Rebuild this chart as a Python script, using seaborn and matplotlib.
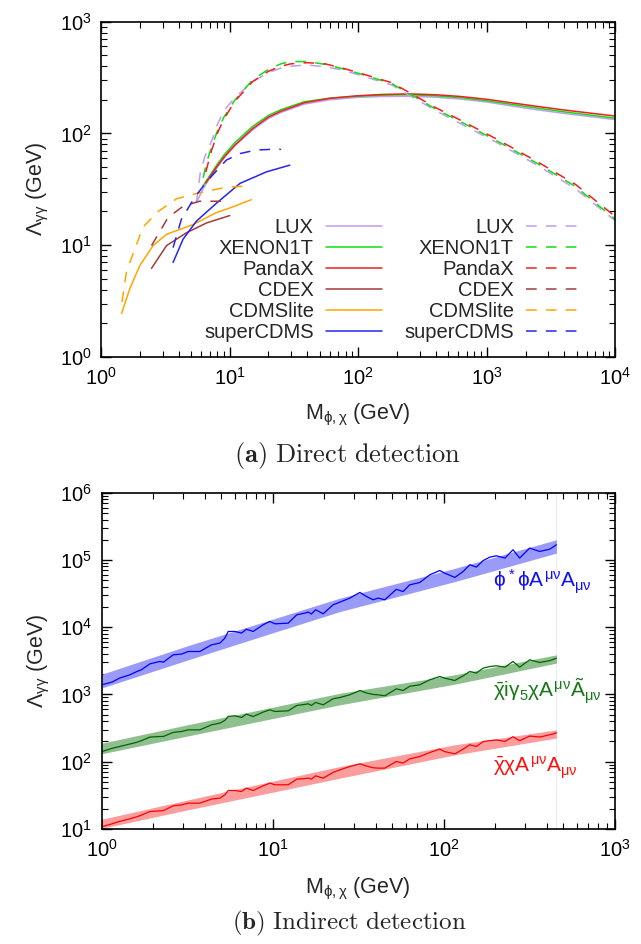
import numpy as np
import pandas as pd
import matplotlib
matplotlib.use("Agg")
import matplotlib.pyplot as plt
import seaborn as sns

sns.set_theme(style="ticks")
plt.rcParams["font.family"] = ["Liberation Sans", "DejaVu Sans"]
plt.rcParams["mathtext.fontset"] = "custom"
plt.rcParams["mathtext.rm"] = "Liberation Sans"
plt.rcParams["mathtext.it"] = "Liberation Sans"
plt.rcParams["mathtext.bf"] = "Liberation Sans:bold"

# ---------------- (a) direct detection: solid curves ----------------
lux_m = [5.5, 6.2, 7, 8, 9.1, 11, 15, 20, 25, 38, 60, 97, 150, 246, 400, 627, 1000, 2180, 4000, 10000]
lux_v = [24, 32, 40, 50, 61, 78, 107, 136, 154, 183, 200, 210, 214, 215, 211, 203, 191, 166, 151, 133]
xenon_m = [6.2, 7, 8, 9.1, 11, 15, 20, 25, 38, 60, 97, 150, 246, 400, 627, 1000, 2180, 4000, 10000]
xenon_v = [34, 42, 53, 65, 83, 115, 145, 163, 192, 207, 215, 220, 222, 217, 209, 196, 172, 156, 137]
panda_m = [6.5, 8, 9.1, 11, 15, 20, 25, 38, 60, 97, 150, 246, 400, 627, 1000, 2180, 4000, 10000]
panda_v = [36, 51, 62, 79, 110, 140, 158, 188, 206, 217, 223, 226, 222, 214, 202, 178, 162, 143]
cdex_m = [2.46, 3.22, 4.6, 6.6, 10]
cdex_v = [6.2, 9.9, 12.9, 15.8, 18.4]
cdmslite_m = [1.44, 1.67, 2.0, 2.53, 3.22, 5.2, 7.9, 10, 14.7]
cdmslite_v = [2.45, 4.1, 6.6, 9.9, 12.5, 15.3, 19.6, 21.5, 25.5]
scdms_m = [3.62, 4.33, 5.5, 7.9, 12, 19.3, 29.3]
scdms_v = [7.0, 11.3, 16.4, 23.8, 35.7, 45.3, 52]

# ---------------- (a) direct detection: dashed curves ----------------
lux_d_m = [5.5, 5.9, 6.4, 7.2, 8, 9, 11, 15, 20, 25, 30, 40, 55, 75, 100, 181, 262, 400, 627, 1170, 2460, 4890, 10000]
lux_d_v = [24, 45, 62, 85, 120, 160, 210, 290, 350, 385, 400, 410, 395, 370, 335, 272, 212, 160, 122, 84, 52, 32, 16.5]
xenon_d_m = [6.2, 6.6, 7.2, 8, 9, 11, 15, 20, 25, 30, 40, 55, 75, 100, 181, 262, 400, 627, 1170, 2460, 4890, 10000]
xenon_d_v = [40, 55, 75, 105, 140, 200, 300, 375, 420, 440, 440, 415, 380, 345, 280, 220, 165, 127, 87, 54, 33.5, 17]
panda_d_m = [6.5, 7.2, 8, 9, 11, 15, 20, 25, 30, 40, 55, 75, 100, 181, 262, 400, 627, 1170, 2460, 4890, 10000]
panda_d_v = [45, 70, 100, 135, 195, 290, 360, 400, 420, 430, 420, 385, 350, 285, 225, 170, 131, 90, 56, 35, 18]
cdex_d_m = [2.46, 3.3, 4.33, 5.8, 10]
cdex_d_v = [9.9, 17.6, 22.3, 24.7, 24.7]
cdmslite_d_m = [1.45, 1.57, 2.11, 2.77, 3.85, 5.8, 9.4, 14.8]
cdmslite_d_v = [3.1, 5.8, 14.5, 20, 26, 29.4, 33, 34]
scdms_d_m = [3.62, 4.2, 5.3, 6.6, 9.4, 12, 16, 21, 25]
scdms_d_v = [9.5, 17, 26.5, 37, 57.7, 66, 71, 72, 72]

experiments = ["LUX", "XENON1T", "PandaX", "CDEX", "CDMSlite", "superCDMS"]
exp_colors = ["#c09cf0", "#11dd11", "#ee2020", "#a03c3c", "#ffa500", "#2525f0"]

# ---------------- (b) indirect detection ----------------
line_m = [1.0, 1.15, 1.27, 1.46, 1.6, 1.7, 1.91, 2.18, 2.29, 2.61, 2.92, 3.2, 3.74, 4.38, 4.9,
          5.24, 5.48, 6.0, 6.56, 7.0, 7.67, 8.77, 9.6, 10.3, 12.3, 13.8, 15.4, 16.1, 16.8, 17.8,
          19.7, 22.5, 24.7, 28.2, 32.3, 35.3, 38.6, 41.3, 45.2, 52.8, 57.8, 63.2, 72.4, 82.8, 94.8,
          101, 116, 130, 142, 155, 170, 186, 203, 228, 254, 278, 318, 364, 417, 456]
scalar_v = [1390, 1530, 1750, 1960, 2190, 2320, 2850, 3090, 3020, 3880, 3980, 4350, 4350, 5470, 5800,
            6880, 8640, 8640, 8170, 9340, 8640, 10860, 12170, 11220, 11480, 15300, 16200, 16800, 15700, 18160,
            15850, 21550, 23600, 27100, 32900, 28650, 25600, 27100, 25600, 36650, 33900, 42700, 46200, 60200, 69800,
            63800, 55000, 67600, 85000, 78400, 98200, 110200, 115500, 106700, 141900, 106700, 150300, 134000, 145000, 168300]
pseudo_v = [141, 158, 168, 183, 194, 205, 232, 236, 237, 272, 281, 297, 297, 353, 374,
            410, 470, 481, 453, 509, 469, 545, 590, 557, 570, 684, 710, 725, 684, 759,
            700, 861, 900, 986, 1143, 1050, 1000, 986, 953, 1211, 1143, 1320, 1390, 1649, 1847,
            1749, 1610, 1894, 2194, 2075, 2460, 2600, 2665, 2546, 3090, 2546, 3273, 2985, 3184, 3450]
fermion_v = [10.8, 11.9, 12.9, 14.1, 15.1, 16.0, 18.1, 18.5, 18.7, 22.0, 22.7, 24.1, 24.1, 27.7, 28.6,
             32.1, 37.2, 37.2, 35.9, 40.3, 37.2, 43.6, 47.9, 45.2, 45.2, 54.9, 56.0, 56.8, 54.9, 61.5,
             56.8, 68.9, 75.5, 84.6, 92.7, 86, 81, 80, 80, 100.5, 95, 110, 119, 136.5, 153.5,
             141, 130.6, 153.5, 178, 168, 199, 205, 210, 200, 235, 205, 240, 232, 251, 268]

band_m = [1.0, 3.16, 10, 24.7, 116, 456]
scalar_lo = [1250, 3240, 8260, 17100, 47700, 126700]
scalar_hi = [2000, 5280, 13200, 27100, 75100, 200000]
pseudo_lo = [131, 240, 438, 700, 1420, 2920]
pseudo_hi = [188, 353, 646, 1040, 1960, 3880]
fermion_lo = [10.2, 19.1, 35.1, 56.8, 126, 224]
fermion_hi = [13.9, 26.8, 51.2, 84.6, 178, 297]

operators = [r"$\phi^*\phi A^{\mu\nu}A_{\mu\nu}$",
             r"$\bar{\chi}i\gamma_5\chi A^{\mu\nu}\tilde{A}_{\mu\nu}$",
             r"$\bar{\chi}\chi A^{\mu\nu}A_{\mu\nu}$"]
op_label_pos = [(194, 38500), (194, 890), (194, 68)]
band_colors = ["#9a9af8", "#8fbf8f", "#fb9d9d"]
line_colors = ["#0000ff", "#006400", "#ff0000"]
text_colors = ["#1010f0", "#157a15", "#ff1010"]

FS = 14.5
xlab = r"M$_{\phi,\chi}$ (GeV)"
ylab = r"$\Lambda_{\gamma\gamma}$ (GeV)"


def style_axes(ax, xpad):
    ax.set_xscale("log")
    ax.set_yscale("log")
    ax.tick_params(which="both", direction="in", top=True, right=True,
                   labelsize=FS, color="black", labelcolor="black")
    ax.tick_params(which="major", length=7, width=1.0, pad=7)
    ax.tick_params(which="minor", length=4, width=0.8)
    for s in ax.spines.values():
        s.set_linewidth(1.2)
        s.set_color("black")
    ax.set_xlabel(xlab, fontsize=FS + 1, labelpad=xpad)
    ax.set_ylabel(ylab, fontsize=FS + 1, labelpad=6)


fig = plt.figure(figsize=(6.41, 9.44), dpi=100)
ax1 = fig.add_axes([0.158, 0.622, 0.802, 0.355])
ax2 = fig.add_axes([0.159, 0.122, 0.800, 0.356])

# ---- panel (a)
solid = [(lux_m, lux_v), (xenon_m, xenon_v), (panda_m, panda_v),
         (cdex_m, cdex_v), (cdmslite_m, cdmslite_v), (scdms_m, scdms_v)]
dashed = [(lux_d_m, lux_d_v), (xenon_d_m, xenon_d_v), (panda_d_m, panda_d_v),
          (cdex_d_m, cdex_d_v), (cdmslite_d_m, cdmslite_d_v), (scdms_d_m, scdms_d_v)]
style_axes(ax1, 10)
for (m, v), c in zip(solid, exp_colors):
    sns.lineplot(x=m, y=v, ax=ax1, color=c, lw=1.1, estimator=None)
for (m, v), c in zip(dashed, exp_colors):
    sns.lineplot(x=m, y=v, ax=ax1, color=c, lw=1.1, estimator=None,
                 linestyle=(0, (7, 6)))
ax1.set_xlim(1, 1e4)
ax1.set_ylim(1, 1e3)
handles = ax1.get_lines()[:12]
ax1.legend(handles, experiments + experiments, ncol=2, markerfirst=False,
           frameon=False, fontsize=FS, loc="lower right",
           bbox_to_anchor=(0.936, 0.045), borderaxespad=0, borderpad=0,
           handlelength=2.8, handletextpad=0.6, columnspacing=1.1,
           labelspacing=0.1)

# ---- panel (b)
style_axes(ax2, 11)
lines_b = [scalar_v, pseudo_v, fermion_v]
bands_b = [(scalar_lo, scalar_hi), (pseudo_lo, pseudo_hi), (fermion_lo, fermion_hi)]
for v, (lo, hi), bc, lc in zip(lines_b, bands_b, band_colors, line_colors):
    ax2.fill_between(band_m, lo, hi, color=bc, lw=0)
    sns.lineplot(x=line_m, y=v, ax=ax2, color=lc, lw=0.9, estimator=None)
ax2.axvline(band_m[-1], color="#ecebfb", lw=0.8, zorder=0.5)
for txt, (px, py), tc in zip(operators, op_label_pos, text_colors):
    ax2.text(px, py, txt, color=tc, fontsize=FS + 0.5, ha="left", va="baseline")
ax2.set_xlim(1, 1e3)
ax2.set_ylim(10, 1e6)

# ---- captions
fig.text(0.543, 0.518, r"$\mathbf{(a)}\ \mathrm{Direct\ detection}$",
         ha="center", va="center", fontsize=19, math_fontfamily="cm")
fig.text(0.545, 0.006, r"$\mathbf{(b)}\ \mathrm{Indirect\ detection}$",
         ha="center", va="bottom", fontsize=18, math_fontfamily="cm")

fig.savefig("out.png", dpi=100)
